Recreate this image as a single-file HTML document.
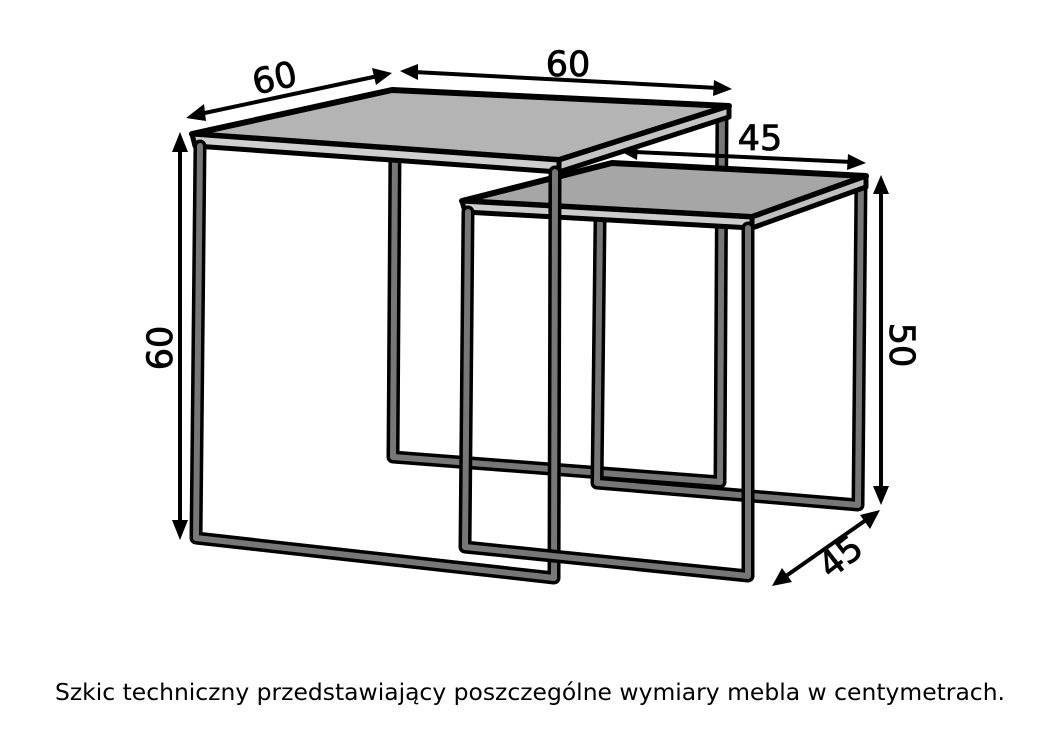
<!DOCTYPE html>
<html><head><meta charset="utf-8"><style>
html,body{margin:0;padding:0;background:#fff;}
svg{display:block}
</style></head><body>
<svg width="1058" height="750" viewBox="0 0 1058 750" xmlns="http://www.w3.org/2000/svg">
<g stroke-linejoin="round" stroke-linecap="round" fill="none">
<g>
<polyline points="395,150 393,457 720,482 722,112" stroke="#000" stroke-width="13"/>
<polyline points="395,150 393,457 720,482 722,112" stroke="#777" stroke-width="6"/>
</g>
<polygon points="192,134 392,90 729,106 559,160" fill="#b4b4b4" stroke="#000" stroke-width="6"/>
<polygon points="192,134 559,160 559,172 195,146" fill="#cfcfcf" stroke="#000" stroke-width="5"/>
<polygon points="559,160 729,106 729,117 559,172" fill="#c4c4c4" stroke="#000" stroke-width="5"/>
<g>
<polyline points="600,222 597,483 858,505 861,180" stroke="#000" stroke-width="13"/>
<polyline points="600,222 597,483 858,505 861,180" stroke="#777" stroke-width="6"/>
</g>
<polygon points="462,201 612,163 866,176 752,217" fill="#a6a6a6" stroke="#000" stroke-width="6"/>
<polygon points="462,201 752,217 752,228 465,212" fill="#cccccc" stroke="#000" stroke-width="5"/>
<polygon points="752,217 866,176 866,187 752,228" fill="#c0c0c0" stroke="#000" stroke-width="5"/>
<g>
<polyline points="200,146 196,538 554,578 555,172" stroke="#000" stroke-width="13"/>
<polyline points="200,146 196,538 554,578 555,172" stroke="#777" stroke-width="6"/>
</g>
<g>
<polyline points="468,212 465,547 748,576 748,228" stroke="#000" stroke-width="13"/>
<polyline points="468,212 465,547 748,576 748,228" stroke="#777" stroke-width="6"/>
</g>
<g stroke="#000" stroke-width="4">
<line x1="200" y1="114" x2="378" y2="76"/>
<line x1="414" y1="72" x2="718" y2="88"/>
<line x1="634" y1="152" x2="852" y2="162"/>
<line x1="180" y1="148" x2="180" y2="522"/>
<line x1="881" y1="190" x2="881" y2="492"/>
<line x1="786" y1="576" x2="866" y2="520"/>
</g>
<g fill="#000" stroke="none">
<polygon points="186,118 204,104 206,121"/>
<polygon points="392,73 372,68 376,85"/>
<polygon points="400,71 418,64 418,80"/>
<polygon points="732,89 714,80 713,96"/>
<polygon points="620,151 638,144 637,160"/>
<polygon points="866,163 848,154 847,170"/>
<polygon points="180,132 172,152 188,152"/>
<polygon points="180,540 172,520 188,520"/>
<polygon points="881,175 873,194 889,194"/>
<polygon points="881,505 873,486 889,486"/>
<polygon points="772,586 782,568 792,582"/>
<polygon points="880,510 860,515 870,529"/>
</g>
</g>
<g font-family="'DejaVu Sans','Liberation Sans',sans-serif" font-size="35" fill="#000" stroke="#000" stroke-width="0.8">
<text x="275" y="90" text-anchor="middle" transform="rotate(-13 275 80)">60</text>
<text x="568" y="76" text-anchor="middle">60</text>
<text x="760" y="150" text-anchor="middle">45</text>
<text x="0" y="0" text-anchor="middle" transform="translate(172,348) rotate(-90)">60</text>
<text x="0" y="0" text-anchor="middle" transform="translate(890,345) rotate(90)">50</text>
<text x="0" y="0" text-anchor="middle" transform="translate(848,566) rotate(-38)">45</text>
</g>
<text x="530" y="700" text-anchor="middle" font-family="'DejaVu Sans','Liberation Sans',sans-serif" font-size="23" fill="#000" textLength="950" lengthAdjust="spacingAndGlyphs">Szkic techniczny przedstawiający poszczególne wymiary mebla w centymetrach.</text>
</svg>
</body></html>
